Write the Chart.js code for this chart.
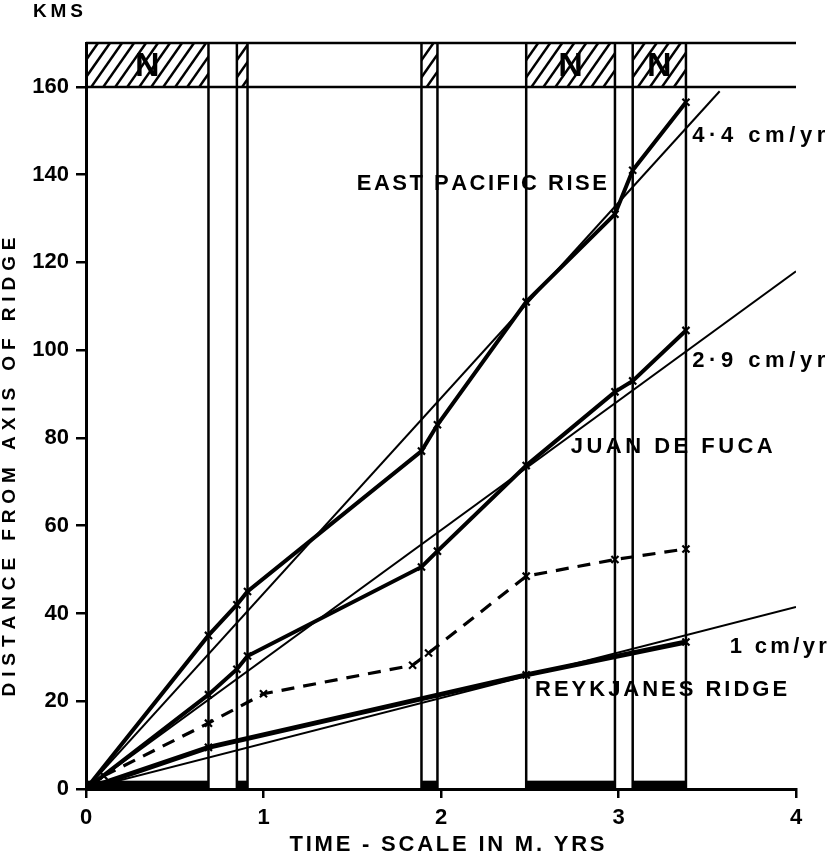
<!DOCTYPE html>
<html>
<head>
<meta charset="utf-8">
<script src="https://cdn.jsdelivr.net/npm/chart.js@4.4.1/dist/chart.umd.min.js"></script>
<style>
  html, body { margin: 0; padding: 0; background: #fff; }
  #wrap { width: 827px; height: 855px; position: relative; }
</style>
</head>
<body>
<div id="wrap"><canvas id="chart"></canvas></div>
<script>
// polarity time scale (M. yrs)
const boundaryAges = [0.69, 0.85, 0.91, 1.89, 1.98, 2.48, 2.98, 3.08, 3.38];
const normalStart = [0, 0.85, 1.89, 2.48, 3.08];
const normalEnd = [0.69, 0.91, 1.98, 2.98, 3.38];
const normalMark = ["N", "", "", "N", "N"];

// anomaly distances (kms)
const eprAges = [0, 0.69, 0.85, 0.91, 1.89, 1.98, 2.48, 2.98, 3.08, 3.38];
const eprKms = [0, 35, 42, 45, 77, 83, 111, 131, 141, 156.5];
const jdfAges = [0, 0.69, 0.85, 0.91, 1.89, 1.98, 2.48, 2.98, 3.08, 3.38];
const jdfKms = [0, 21.5, 27.3, 30.3, 50.6, 54.2, 73.7, 90.5, 93, 104.5];
const reyAges = [0, 0.69, 2.48, 3.38];
const reyKms = [0, 9.5, 26, 33.5];
const dashAges = [0.1, 0.69, 1.0, 1.84, 1.93, 2.48, 2.98, 3.38];
const dashKms = [3, 15, 21.7, 28.2, 31, 48.5, 52.3, 54.7];

// constant-rate lines
const eprFitAges = [0, 3.57];
const eprFitKms = [0, 159];
const jdfFitAges = [0, 4];
const jdfFitKms = [0, 118];
const reyFitAges = [0, 4];
const reyFitKms = [0, 41.5];

const xTicks = [0, 1, 2, 3, 4];
const yTicks = [0, 20, 40, 60, 80, 100, 120, 140, 160];
const bandBottom = 160;
const bandTop = 170;

const notes = ["EAST PACIFIC RISE", "4·4 cm/yr", "2·9 cm/yr", "JUAN DE FUCA", "1 cm/yr", "REYKJANES RIDGE"];
const noteAges = [2.23, 3.79, 3.79, 3.30, 3.90, 3.24];
const noteKms = [137.9, 148.9, 97.5, 77.9, 32.4, 22.6];
const noteWidths = [250, 133, 133, 202, 97, 252];

const FONT = '"Liberation Sans", Arial, sans-serif';

function pts(xs, ys) {
  return xs.map((x, i) => ({ x: x, y: ys[i] }));
}

function boundaryPoints() {
  const out = [];
  boundaryAges.forEach(a => {
    out.push({ x: a, y: 0 }, { x: a, y: bandTop }, { x: a, y: null });
  });
  return out;
}

function markerSeries(label, xs, ys, width) {
  return {
    label: label,
    data: pts(xs, ys),
    borderColor: "#000",
    backgroundColor: "#000",
    borderWidth: width,
    pointStyle: "crossRot",
    pointRadius: xs.map(x => x === 0 ? 0 : 5),
    pointBorderWidth: 2.2,
    pointBorderColor: "#000",
    tension: 0
  };
}

function thinLine(label, xs, ys, width) {
  return {
    label: label,
    data: pts(xs, ys),
    borderColor: "#000",
    borderWidth: width,
    pointRadius: 0,
    tension: 0
  };
}

// spread characters of a string evenly across a given width
function drawSpaced(ctx, text, cx, cy, width, font, rotate) {
  ctx.save();
  ctx.font = font;
  ctx.fillStyle = "#000";
  ctx.textBaseline = "middle";
  ctx.textAlign = "left";
  const chars = text.split("");
  const ws = chars.map(c => ctx.measureText(c).width);
  const natural = ws.reduce((a, b) => a + b, 0);
  const gap = chars.length > 1 ? (width - natural) / (chars.length - 1) : 0;
  ctx.translate(cx, cy);
  if (rotate) ctx.rotate(rotate);
  let x = -width / 2;
  chars.forEach((c, i) => {
    ctx.fillText(c, x, 0);
    x += ws[i] + gap;
  });
  ctx.restore();
}

const polarityPlugin = {
  id: "polarity",
  beforeDatasetsDraw(chart) {
    const ctx = chart.ctx;
    const xs = chart.scales.x, ys = chart.scales.y;
    const top = ys.getPixelForValue(bandTop);
    const bot = ys.getPixelForValue(bandBottom);
    const zero = ys.getPixelForValue(0);
    const barTop = ys.getPixelForValue(1.9);
    ctx.save();
    normalStart.forEach((s, i) => {
      const x0 = xs.getPixelForValue(s);
      const x1 = xs.getPixelForValue(normalEnd[i]);
      // hatching in the top band
      ctx.save();
      ctx.beginPath();
      ctx.rect(x0, top, x1 - x0, bot - top);
      ctx.clip();
      ctx.strokeStyle = "#000";
      ctx.lineWidth = 2.5;
      const h = bot - top;
      const lean = h * 0.7;
      for (let x = x0 - lean; x < x1 + lean; x += 12) {
        ctx.beginPath();
        ctx.moveTo(x, bot);
        ctx.lineTo(x + lean, top);
        ctx.stroke();
      }
      ctx.restore();
      // solid bar along the time axis
      ctx.fillStyle = "#000";
      ctx.fillRect(x0, barTop, x1 - x0, zero - barTop);
    });
    ctx.restore();
  },
  afterDraw(chart) {
    const ctx = chart.ctx;
    const xs = chart.scales.x, ys = chart.scales.y;
    const midBand = ys.getPixelForValue((bandTop + bandBottom) / 2);
    normalStart.forEach((s, i) => {
      if (!normalMark[i]) return;
      const cx = xs.getPixelForValue((s + normalEnd[i]) / 2);
      ctx.save();
      ctx.font = "bold 34px " + FONT;
      ctx.textAlign = "center";
      ctx.textBaseline = "middle";
      ctx.fillStyle = "#000";
      ctx.fillText(normalMark[i], cx, midBand + 2);
      ctx.restore();
    });
    notes.forEach((t, i) => {
      const cx = xs.getPixelForValue(noteAges[i]);
      const cy = ys.getPixelForValue(noteKms[i]);
      drawSpaced(ctx, t, cx, cy, noteWidths[i], "bold 22px " + FONT);
    });
    drawSpaced(ctx, "KMS", 58, 12, 50, "bold 19px " + FONT);
    drawSpaced(ctx, "TIME - SCALE IN M. YRS", 447, 845, 315, "bold 22px " + FONT);
    drawSpaced(ctx, "DISTANCE FROM AXIS OF RIDGE", 10, 467, 459, "bold 19px " + FONT, -Math.PI / 2);
  }
};

new Chart(document.getElementById("chart"), {
  type: "line",
  data: {
    datasets: [
      markerSeries("East Pacific Rise", eprAges, eprKms, 4),
      markerSeries("Juan de Fuca", jdfAges, jdfKms, 4),
      markerSeries("Reykjanes Ridge", reyAges, reyKms, 5),
      Object.assign(markerSeries("dashed", dashAges, dashKms, 3.2), {
        borderDash: [13, 9],
        pointRadius: dashAges.map(() => 5)
      }),
      thinLine("4.4 cm/yr", eprFitAges, eprFitKms, 2),
      thinLine("2.9 cm/yr", jdfFitAges, jdfFitKms, 2),
      thinLine("1 cm/yr", reyFitAges, reyFitKms, 2),
      Object.assign(thinLine("boundaries", [], [], 2.5), { data: boundaryPoints(), spanGaps: false }),
      Object.assign(thinLine("band", [], [], 2.5), {
        data: [
          { x: 0, y: bandBottom }, { x: 4, y: bandBottom }, { x: 4, y: null },
          { x: 0, y: bandTop }, { x: 4, y: bandTop }
        ],
        spanGaps: false,
        clip: false
      })
    ]
  },
  options: {
    responsive: true,
    maintainAspectRatio: false,
    animation: false,
    layout: { padding: { top: 43, right: 31, left: 0, bottom: 0 } },
    plugins: {
      legend: { display: false },
      tooltip: { enabled: false },
      title: { display: false }
    },
    scales: {
      x: {
        type: "linear",
        min: 0,
        max: 4,
        afterBuildTicks: axis => { axis.ticks = xTicks.map(v => ({ value: v })); },
        afterFit: scale => { scale.height = 66; },
        ticks: {
          color: "#000",
          font: { family: FONT, size: 22, weight: "bold" },
          padding: 7,
          maxRotation: 0
        },
        grid: { display: true, drawOnChartArea: false, tickLength: 9, color: "#000", lineWidth: 2.5 },
        border: { display: true, color: "#000", width: 3 }
      },
      y: {
        type: "linear",
        min: 0,
        max: bandTop,
        afterBuildTicks: axis => { axis.ticks = yTicks.map(v => ({ value: v })); },
        afterFit: scale => { scale.width = 86; },
        ticks: {
          color: "#000",
          font: { family: FONT, size: 22, weight: "bold" },
          padding: 7
        },
        grid: { display: true, drawOnChartArea: false, tickLength: 10, color: "#000", lineWidth: 2.5 },
        border: { display: true, color: "#000", width: 3 }
      }
    }
  },
  plugins: [polarityPlugin]
});
</script>
</body>
</html>
